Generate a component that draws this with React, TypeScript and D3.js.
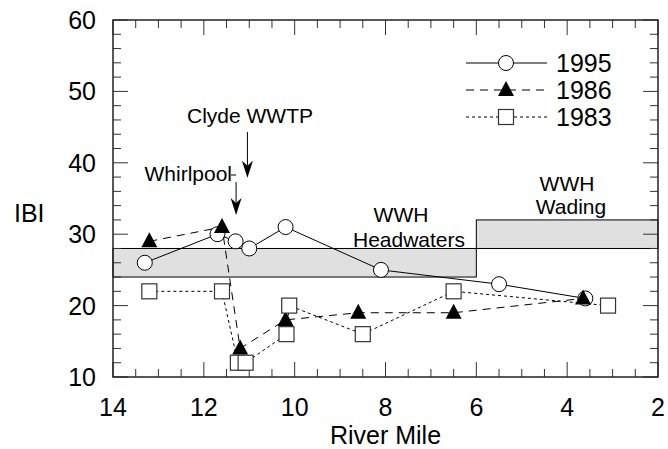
import React from "react";
import * as d3 from "d3";

// IBI by river mile, three survey years
const miles1995 = [13.3, 11.7, 11.3, 11.0, 10.2, 8.1, 5.5, 3.6];
const ibi1995 = [26, 30, 29, 28, 31, 25, 23, 21];
const miles1986 = [13.2, 11.6, 11.2, 10.2, 8.6, 6.5, 3.65];
const ibi1986 = [29, 31, 14, 18, 19, 19, 21];
const miles1983 = [13.2, 11.6, 11.25, 11.08, 10.18, 10.12, 8.5, 6.5, 3.1];
const ibi1983 = [22, 22, 12, 12, 16, 20, 16, 22, 20];

const xTickLabels = [14, 12, 10, 8, 6, 4, 2];
const yTickLabels = [10, 20, 30, 40, 50, 60];

// WWH criteria bands
const bandFrom = [14, 6];
const bandTo = [6, 2];
const bandLow = [24, 28];
const bandHigh = [28, 32];

// arrows: mile, tip IBI, tail IBI
const arrowMiles = [11.29, 11.04];
const arrowTip = [32.7, 37.9];
const arrowTail = [37.3, 44.3];

const W = 668;
const H = 449;
const m = { left: 113, right: 10, top: 20, bottom: 72 };

type Pt = [number, number];

const zip = (a: number[], b: number[]): Pt[] => a.map((v, i) => [v, b[i]]);

const Arrow = ({ x, y1, y2 }: { x: number; y1: number; y2: number }) => (
  <g>
    <line x1={x} x2={x} y1={y1} y2={y2 - 12} stroke="#000" strokeWidth={1} />
    <path
      d={`M${x},${y2} L${x - 5.5},${y2 - 17} L${x},${y2 - 12} L${x + 5.5},${y2 - 17} Z`}
      fill="#000"
    />
  </g>
);

const Marker = ({ kind, x, y }: { kind: string; x: number; y: number }) => {
  if (kind === "circle")
    return <circle cx={x} cy={y} r={7.5} fill="#fff" stroke="#000" strokeWidth={1} />;
  if (kind === "tri")
    return (
      <path
        d={`M${x},${y - 9} L${x + 8},${y + 6} L${x - 8},${y + 6} Z`}
        fill="#000"
      />
    );
  return (
    <rect x={x - 7.5} y={y - 7.5} width={15} height={15} fill="#fff" stroke="#333" strokeWidth={1.2} />
  );
};

export default function App() {
  const x = d3.scaleLinear().domain([14, 2]).range([m.left, W - m.right]);
  const y = d3.scaleLinear().domain([10, 60]).range([H - m.bottom, m.top]);
  const line = d3
    .line<Pt>()
    .x((d) => x(d[0]))
    .y((d) => y(d[1]));

  const series = [
    { name: "1995", pts: zip(miles1995, ibi1995), dash: "none", kind: "circle" },
    { name: "1986", pts: zip(miles1986, ibi1986), dash: "8,6", kind: "tri" },
    { name: "1983", pts: zip(miles1983, ibi1983), dash: "3,3", kind: "square" },
  ];

  const xTicks = d3.range(2, 14.01, 0.5);
  const yTicks = d3.range(10, 60.01, 2);
  const font = "Liberation Sans, Arial, Helvetica, sans-serif";
  const x0 = m.left;
  const x1 = W - m.right;
  const y0 = H - m.bottom;
  const y1 = m.top;

  return (
    <svg
      width={W}
      height={H}
      style={{ position: "fixed", left: 0, top: 0, background: "#fff" }}
      fontFamily={font}
    >
      {/* criteria bands */}
      {bandFrom.map((f, i) => (
        <rect
          key={i}
          x={x(f)}
          width={x(bandTo[i]) - x(f)}
          y={y(bandHigh[i])}
          height={y(bandLow[i]) - y(bandHigh[i])}
          fill="#e0e0e0"
          stroke="#000"
          strokeWidth={1}
        />
      ))}

      {/* ticks */}
      {xTicks.map((t) => {
        const major = Math.abs(t % 2) < 1e-6;
        const len = major ? 15 : 8;
        return (
          <g key={"x" + t} stroke="#333" strokeWidth={1}>
            <line x1={x(t)} x2={x(t)} y1={y0} y2={y0 - len} />
            <line x1={x(t)} x2={x(t)} y1={y1} y2={y1 + len} />
          </g>
        );
      })}
      {yTicks.map((t) => {
        const major = Math.abs(t % 10) < 1e-6;
        const len = major ? 15 : 8;
        return (
          <g key={"y" + t} stroke="#333" strokeWidth={1}>
            <line x1={x0} x2={x0 + len} y1={y(t)} y2={y(t)} />
            <line x1={x1} x2={x1 - len} y1={y(t)} y2={y(t)} />
          </g>
        );
      })}
      <rect x={x0} y={y1} width={x1 - x0} height={y0 - y1} fill="none" stroke="#222" strokeWidth={1.5} />

      {/* tick labels */}
      {xTickLabels.map((t) => (
        <text key={"xl" + t} x={x(t)} y={416} textAnchor="middle" fontSize={25}>
          {t}
        </text>
      ))}
      {yTickLabels.map((t) => (
        <text key={"yl" + t} x={96} y={y(t) + 9} textAnchor="end" fontSize={25}>
          {t}
        </text>
      ))}
      <text x={(x0 + x1) / 2} y={444} textAnchor="middle" fontSize={25}>
        River Mile
      </text>
      <text x={14} y={222} fontSize={25}>
        IBI
      </text>

      {/* band labels */}
      <text x={401} y={222} textAnchor="middle" fontSize={21}>WWH</text>
      <text x={409} y={247} textAnchor="middle" fontSize={21}>Headwaters</text>
      <text x={567} y={191} textAnchor="middle" fontSize={21}>WWH</text>
      <text x={571} y={214} textAnchor="middle" fontSize={21}>Wading</text>

      {/* annotations */}
      <text x={187} y={123} fontSize={21}>Clyde WWTP</text>
      <text x={232} y={181} textAnchor="end" fontSize={21}>Whirlpool</text>
      <line x1={231} x2={x(arrowMiles[0])} y1={175} y2={175} stroke="#000" strokeWidth={1} />
      <Arrow x={x(arrowMiles[0])} y1={y(arrowTail[0])} y2={y(arrowTip[0])} />
      <Arrow x={x(arrowMiles[1])} y1={y(arrowTail[1])} y2={y(arrowTip[1])} />

      {/* series */}
      {series.map((s) => (
        <g key={s.name}>
          <path d={line(s.pts) || ""} fill="none" stroke="#000" strokeWidth={1} strokeDasharray={s.dash} />
          {s.pts.map((p, i) => (
            <Marker key={i} kind={s.kind} x={x(p[0])} y={y(p[1])} />
          ))}
        </g>
      ))}

      {/* legend */}
      {series.map((s, i) => {
        const ly = 63 + i * 27;
        return (
          <g key={"lg" + s.name}>
            <line x1={466} x2={547} y1={ly} y2={ly} stroke="#000" strokeWidth={1} strokeDasharray={s.dash} />
            <Marker kind={s.kind} x={506} y={ly} />
            <text x={556} y={ly + 9} fontSize={25}>
              {s.name}
            </text>
          </g>
        );
      })}
    </svg>
  );
}
